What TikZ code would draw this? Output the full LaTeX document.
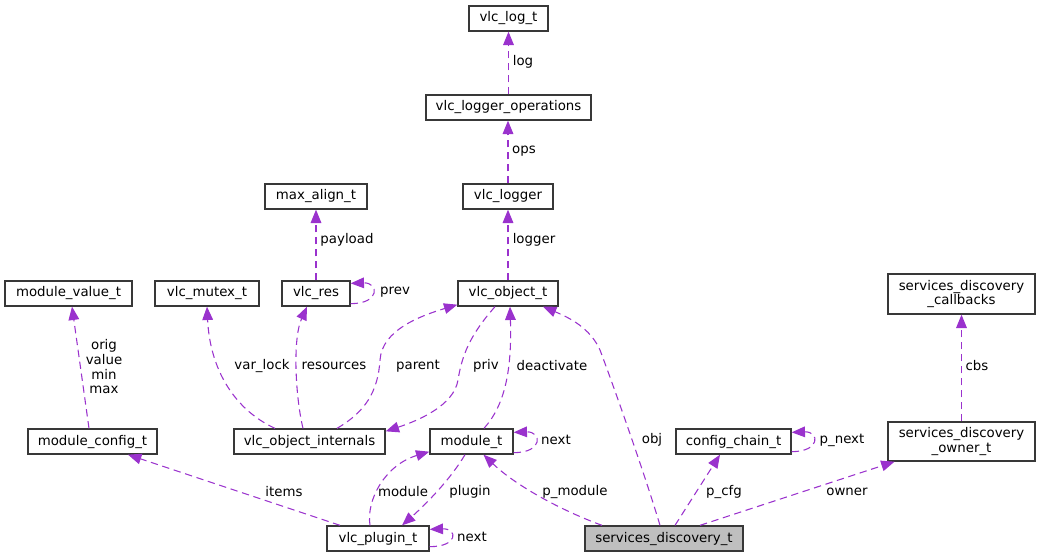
\documentclass[tikz,border=0pt]{standalone}
\usepackage{fontspec}
\setmainfont{DejaVu Sans}
\usetikzlibrary{arrows.meta,calc}
\definecolor{edgec}{HTML}{9A32CD}
\definecolor{boxc}{HTML}{383838}
\definecolor{mainfill}{HTML}{BFBFBF}
\begin{document}
\begin{tikzpicture}[x=0.75pt,y=-0.75pt,
  cls/.style={draw=boxc, line width=1pt, fill=white, inner sep=0pt,
    minimum height=18.75pt, font=\fontsize{10}{11}\selectfont, align=center},
  edge/.style={draw=edgec, line width=0.8pt, dash pattern=on 5.5pt off 3.5pt,
    -{Triangle[length=10pt,width=8pt,fill=edgec]}},
  lbl/.style={font=\fontsize{10}{11}\selectfont, inner sep=0pt, align=center}]
\useasboundingbox (0,0) rectangle (1041,557);

% nodes
\node[cls, minimum width=59.25pt] (logt) at (508.5,18.5) {vlc\_log\_t};
\node[cls, minimum width=123.75pt] (logops) at (508.5,107.5) {vlc\_logger\_operations};
\node[cls, minimum width=67.5pt] (logger) at (508,196.5) {vlc\_logger};
\node[cls, minimum width=76.5pt] (maxalign) at (316,196.5) {max\_align\_t};
\node[cls, minimum width=95.25pt] (modval) at (68.5,293.5) {module\_value\_t};
\node[cls, minimum width=78pt] (mutex) at (207,293.5) {vlc\_mutex\_t};
\node[cls, minimum width=51pt] (res) at (316,293.5) {vlc\_res};
\node[cls, minimum width=75pt] (obj) at (508,293.5) {vlc\_object\_t};
\node[cls, minimum width=110.25pt, minimum height=30pt] (cbk) at (961.5,294) {services\_discovery\\\_callbacks};
\node[cls, minimum width=96.75pt] (modcfg) at (92.5,441.5) {module\_config\_t};
\node[cls, minimum width=113.25pt] (objint) at (309.5,441.5) {vlc\_object\_internals};
\node[cls, minimum width=62.25pt] (mod) at (471.5,441.5) {module\_t};
\node[cls, minimum width=86.25pt] (cfgchain) at (733.5,441.5) {config\_chain\_t};
\node[cls, minimum width=110.25pt, minimum height=29.25pt] (owner) at (961.5,441.5) {services\_discovery\\\_owner\_t};
\node[cls, minimum width=76.5pt] (plugin) at (378,538.5) {vlc\_plugin\_t};
\node[cls, minimum width=118.5pt, fill=mainfill] (sd) at (664,538.5) {services\_discovery\_t};

% edges
\draw[edge] (logops.north) -- (logt.south);
\draw[edge] (logger.north) -- ($(logops.south)+(-0.5,0)$);
\draw[edge] (obj.north) -- (logger.south);
\draw[edge] (res.north) -- (maxalign.south);
\draw[edge] ($(res.south east)+(0,-3)$) .. controls +(30,0) and +(28,-1) .. ($(res.north east)+(0,3)$);
\draw[edge] ($(modcfg.north)+(-3.5,0)$) -- ($(modval.south)+(3.5,0)$);
\draw[edge] ($(objint.north)+(-34.5,0)$) .. controls (235,410) and (210,370) .. (mutex.south);
\draw[edge] ($(objint.north)+(-6.5,0)$) .. controls (296,400) and (292,340) .. ($(res.south)+(-9,0)$);
\draw[edge] ($(objint.north)+(27.5,0)$) .. controls (365,412) and (378,392) .. (380,360)
   .. controls (382,330) and (420,316) .. ($(obj.south west)+(0,-2)$);
\draw[edge] ($(obj.south)+(-13,0)$) .. controls (470,335) and (462,355) .. (458,380)
   .. controls (454,405) and (420,420) .. ($(objint.north east)+(0,3)$);
\draw[edge] ($(mod.north)+(12.5,0)$) .. controls (505,405) and (512,370) .. ($(obj.south)+(2,0)$);
\draw[edge] ($(mod.south east)+(0,-2)$) .. controls +(30,0) and +(28,-1) .. ($(mod.north east)+(0,4)$);
\draw[edge] ($(plugin.north)+(-38,0)$) -- ($(modcfg.south)+(35.5,0)$);
\draw[edge] ($(plugin.north)+(-8,0)$) .. controls (366,500) and (385,465) .. ($(mod.south west)+(0,-3)$);
\draw[edge] ($(mod.south)+(-6.5,0)$) .. controls (450,480) and (425,505) .. ($(plugin.north)+(24,0)$);
\draw[edge] ($(plugin.south east)+(0,-5)$) .. controls +(29,0) and +(28,-1) .. ($(plugin.north east)+(0,4)$);
\draw[edge] ($(sd.north)+(-62,0)$) .. controls (560,510) and (515,485) .. ($(mod.south)+(12,0)$);
\draw[edge] ($(sd.north)+(-4,0)$) .. controls (645,475) and (615,390) .. (600,350)
   .. controls (590,328) and (570,318) .. ($(obj.south)+(35,0)$);
\draw[edge] ($(sd.north)+(11,0)$) -- ($(cfgchain.south)+(-13.5,0)$);
\draw[edge] ($(sd.north)+(36,0)$) -- ($(owner.south)+(-67,0)$);
\draw[edge] ($(cfgchain.south east)+(0,-3)$) .. controls +(29,0) and +(28,-1) .. ($(cfgchain.north east)+(0,4)$);
\draw[edge] (owner.north) -- (cbk.south);

% labels
\node[lbl] (l_log) at (523,62) {log};
\node[lbl] (l_ops) at (524,151) {ops};
\node[lbl] (l_logger) at (534,240) {logger};
\node[lbl] (l_payload) at (347,240) {payload};
\node[lbl] (l_prev) at (395,292) {prev};
\node[lbl] (l_orig) at (104,367) {orig\\value\\min\\max};
\node[lbl] (l_varlock) at (262,366) {var\_lock};
\node[lbl] (l_res) at (334,366) {resources};
\node[lbl] (l_parent) at (418,366) {parent};
\node[lbl] (l_priv) at (486,366) {priv};
\node[lbl] (l_deact) at (552,366) {deactivate};
\node[lbl] (l_obj) at (652,440) {obj};
\node[lbl] (l_next1) at (556,440) {next};
\node[lbl] (l_items) at (284,492) {items};
\node[lbl] (l_module) at (403,492) {module};
\node[lbl] (l_plugin) at (470,492) {plugin};
\node[lbl] (l_pmod) at (575,492) {p\_module};
\node[lbl] (l_pcfg) at (724,492) {p\_cfg};
\node[lbl] (l_owner) at (847,492) {owner};
\node[lbl] (l_cbs) at (977,366) {cbs};
\node[lbl] (l_pnext) at (842,440) {p\_next};
\node[lbl] (l_next2) at (472,537) {next};
\end{tikzpicture}
\end{document}
